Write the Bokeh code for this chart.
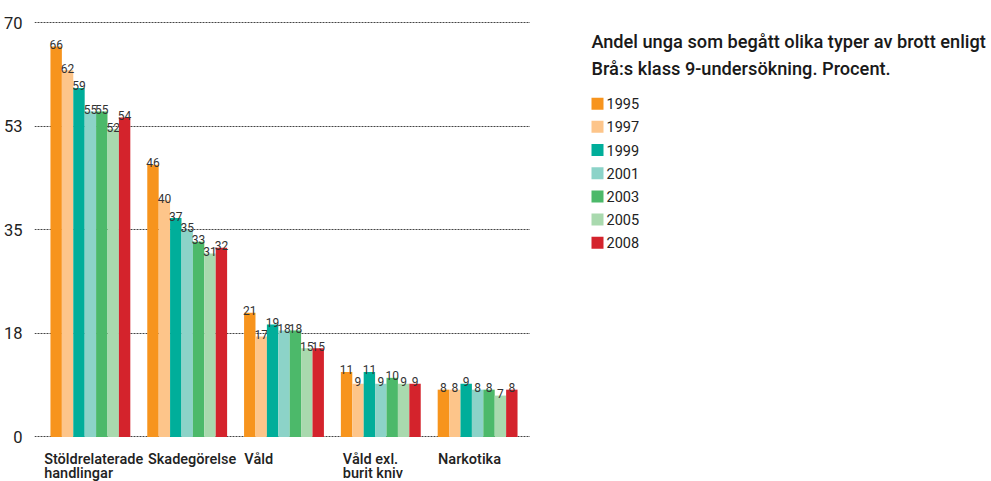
from bokeh.plotting import figure
from bokeh.layouts import row
from bokeh.models import Range1d
from bokeh.core.properties import value
from bokeh.embed import file_html
from bokeh.resources import INLINE

# ---------------- data ----------------
categories = ["Stöldrelaterade\nhandlingar", "Skadegörelse", "Våld",
              "Våld exl.\nburit kniv", "Narkotika"]
years = ["1995", "1997", "1999", "2001", "2003", "2005", "2008"]
v1995 = [66, 46, 21, 11, 8]
v1997 = [62, 40, 17, 9, 8]
v1999 = [59, 37, 19, 11, 9]
v2001 = [55, 35, 18, 9, 8]
v2003 = [55, 33, 18, 10, 8]
v2005 = [52, 31, 15, 9, 7]
v2008 = [54, 32, 15, 9, 8]
series = [v1995, v1997, v1999, v2001, v2003, v2005, v2008]
y_ticks = [0, 17.5, 35, 52.5, 70]
y_tick_labels = ["0", "18", "35", "53", "70"]
title_lines = ["Andel unga som begått olika typer av brott enligt",
               "Brå:s klass 9-undersökning. Procent."]

# ---------------- style / layout ----------------
colors = ["#F7941D", "#FDC58A", "#00AE9A", "#8CD3C8", "#4CB96A", "#A9D9AE", "#D4232C"]
FONT = "Roboto"
FONT_MED = "Roboto Medium"
TXT = "#222222"
H = 481
LEFT_W = 530
RIGHT_W = 461
PX_X = 97.0      # pixels per category
PX_Y = 5.917     # pixels per percent
bw = 11.43 / PX_X
label_nudge_px = [-6.3, 0.7, 0.3, 2.0, 0.3]   # fine placement of category labels

# ---------------- chart ----------------
p = figure(width=LEFT_W, height=H,
           x_range=Range1d(-56 / PX_X, -56 / PX_X + 497 / PX_X),
           y_range=Range1d(-(481 - 436.5) / PX_Y, 70 + (22.3 - 5) / PX_Y),
           x_axis_location=None, toolbar_location=None, output_backend="svg",
           min_border_left=33, min_border_right=0, min_border_top=5, min_border_bottom=0)
p.outline_line_color = None
p.background_fill_color = "white"
p.border_fill_color = "white"
p.xgrid.visible = False

p.yaxis.ticker = y_ticks
p.yaxis.major_label_overrides = {t: l for t, l in zip(y_ticks, y_tick_labels)}
p.yaxis.axis_line_color = None
p.yaxis.major_tick_line_color = None
p.yaxis.minor_tick_line_color = None
p.yaxis.major_label_standoff = 6
p.yaxis.major_label_text_font = FONT
p.yaxis.major_label_text_font_size = "16.5px"
p.yaxis.major_label_text_color = TXT

p.ygrid.grid_line_color = "#444444"
p.ygrid.grid_line_dash = "2 1"
p.ygrid.grid_line_width = 1

n = len(categories)
for k, (yr, vals) in enumerate(zip(years, series)):
    xs = [i + (k - 3) * bw for i in range(n)]
    p.vbar(x=xs, top=vals, bottom=0, width=bw, fill_color=colors[k], line_color=None)
    p.text(x=xs, y=vals, text=[str(v) for v in vals], text_align="center",
           text_baseline="alphabetic", y_offset=-2,
           text_font=value(FONT), text_font_size="12px", text_color="#333333")

# category labels (wrapped)
line1 = [c.split("\n")[0] for c in categories]
line2 = [c.split("\n")[1] if "\n" in c else "" for c in categories]
cx = [i - 3.5 * bw + d / PX_X for i, d in zip(range(n), label_nudge_px)]
y_lab = -(459.5 - 436.5) / PX_Y
p.text(x=cx, y=[y_lab] * n, text=line1, text_align="left", text_baseline="alphabetic",
       text_font=value(FONT_MED), text_font_size="14.5px", text_color=TXT)
p.text(x=cx, y=[y_lab] * n, text=line2, text_align="left", text_baseline="alphabetic",
       y_offset=13.5,
       text_font=value(FONT_MED), text_font_size="14.5px", text_color=TXT)

# ---------------- title + legend panel ----------------
p2 = figure(width=RIGHT_W, height=H, x_range=Range1d(LEFT_W, LEFT_W + RIGHT_W),
            y_range=Range1d(H, 0), x_axis_location=None, y_axis_location=None,
            toolbar_location=None, output_backend="svg", min_border=0)
p2.outline_line_color = None
p2.grid.visible = False

p2.text(x=[591, 591], y=[36.7, 63.3], text=title_lines, text_align="left",
        text_baseline="alphabetic", text_font=value(FONT_MED), text_font_size="18.2px",
        text_color="#1a1a1a")

ly = [99.2 + i * 23.43 for i in range(len(years))]
p2.scatter(x=[597] * len(years), y=ly, marker="square", size=12,
           fill_color=colors, line_color=None)
p2.text(x=[606] * len(years), y=ly, text=years, text_align="left", text_baseline="middle",
        text_font=value(FONT), text_font_size="14.5px", text_color=TXT)

layout = row(p, p2, spacing=0)
open("out.html", "w").write(file_html(layout, INLINE))
